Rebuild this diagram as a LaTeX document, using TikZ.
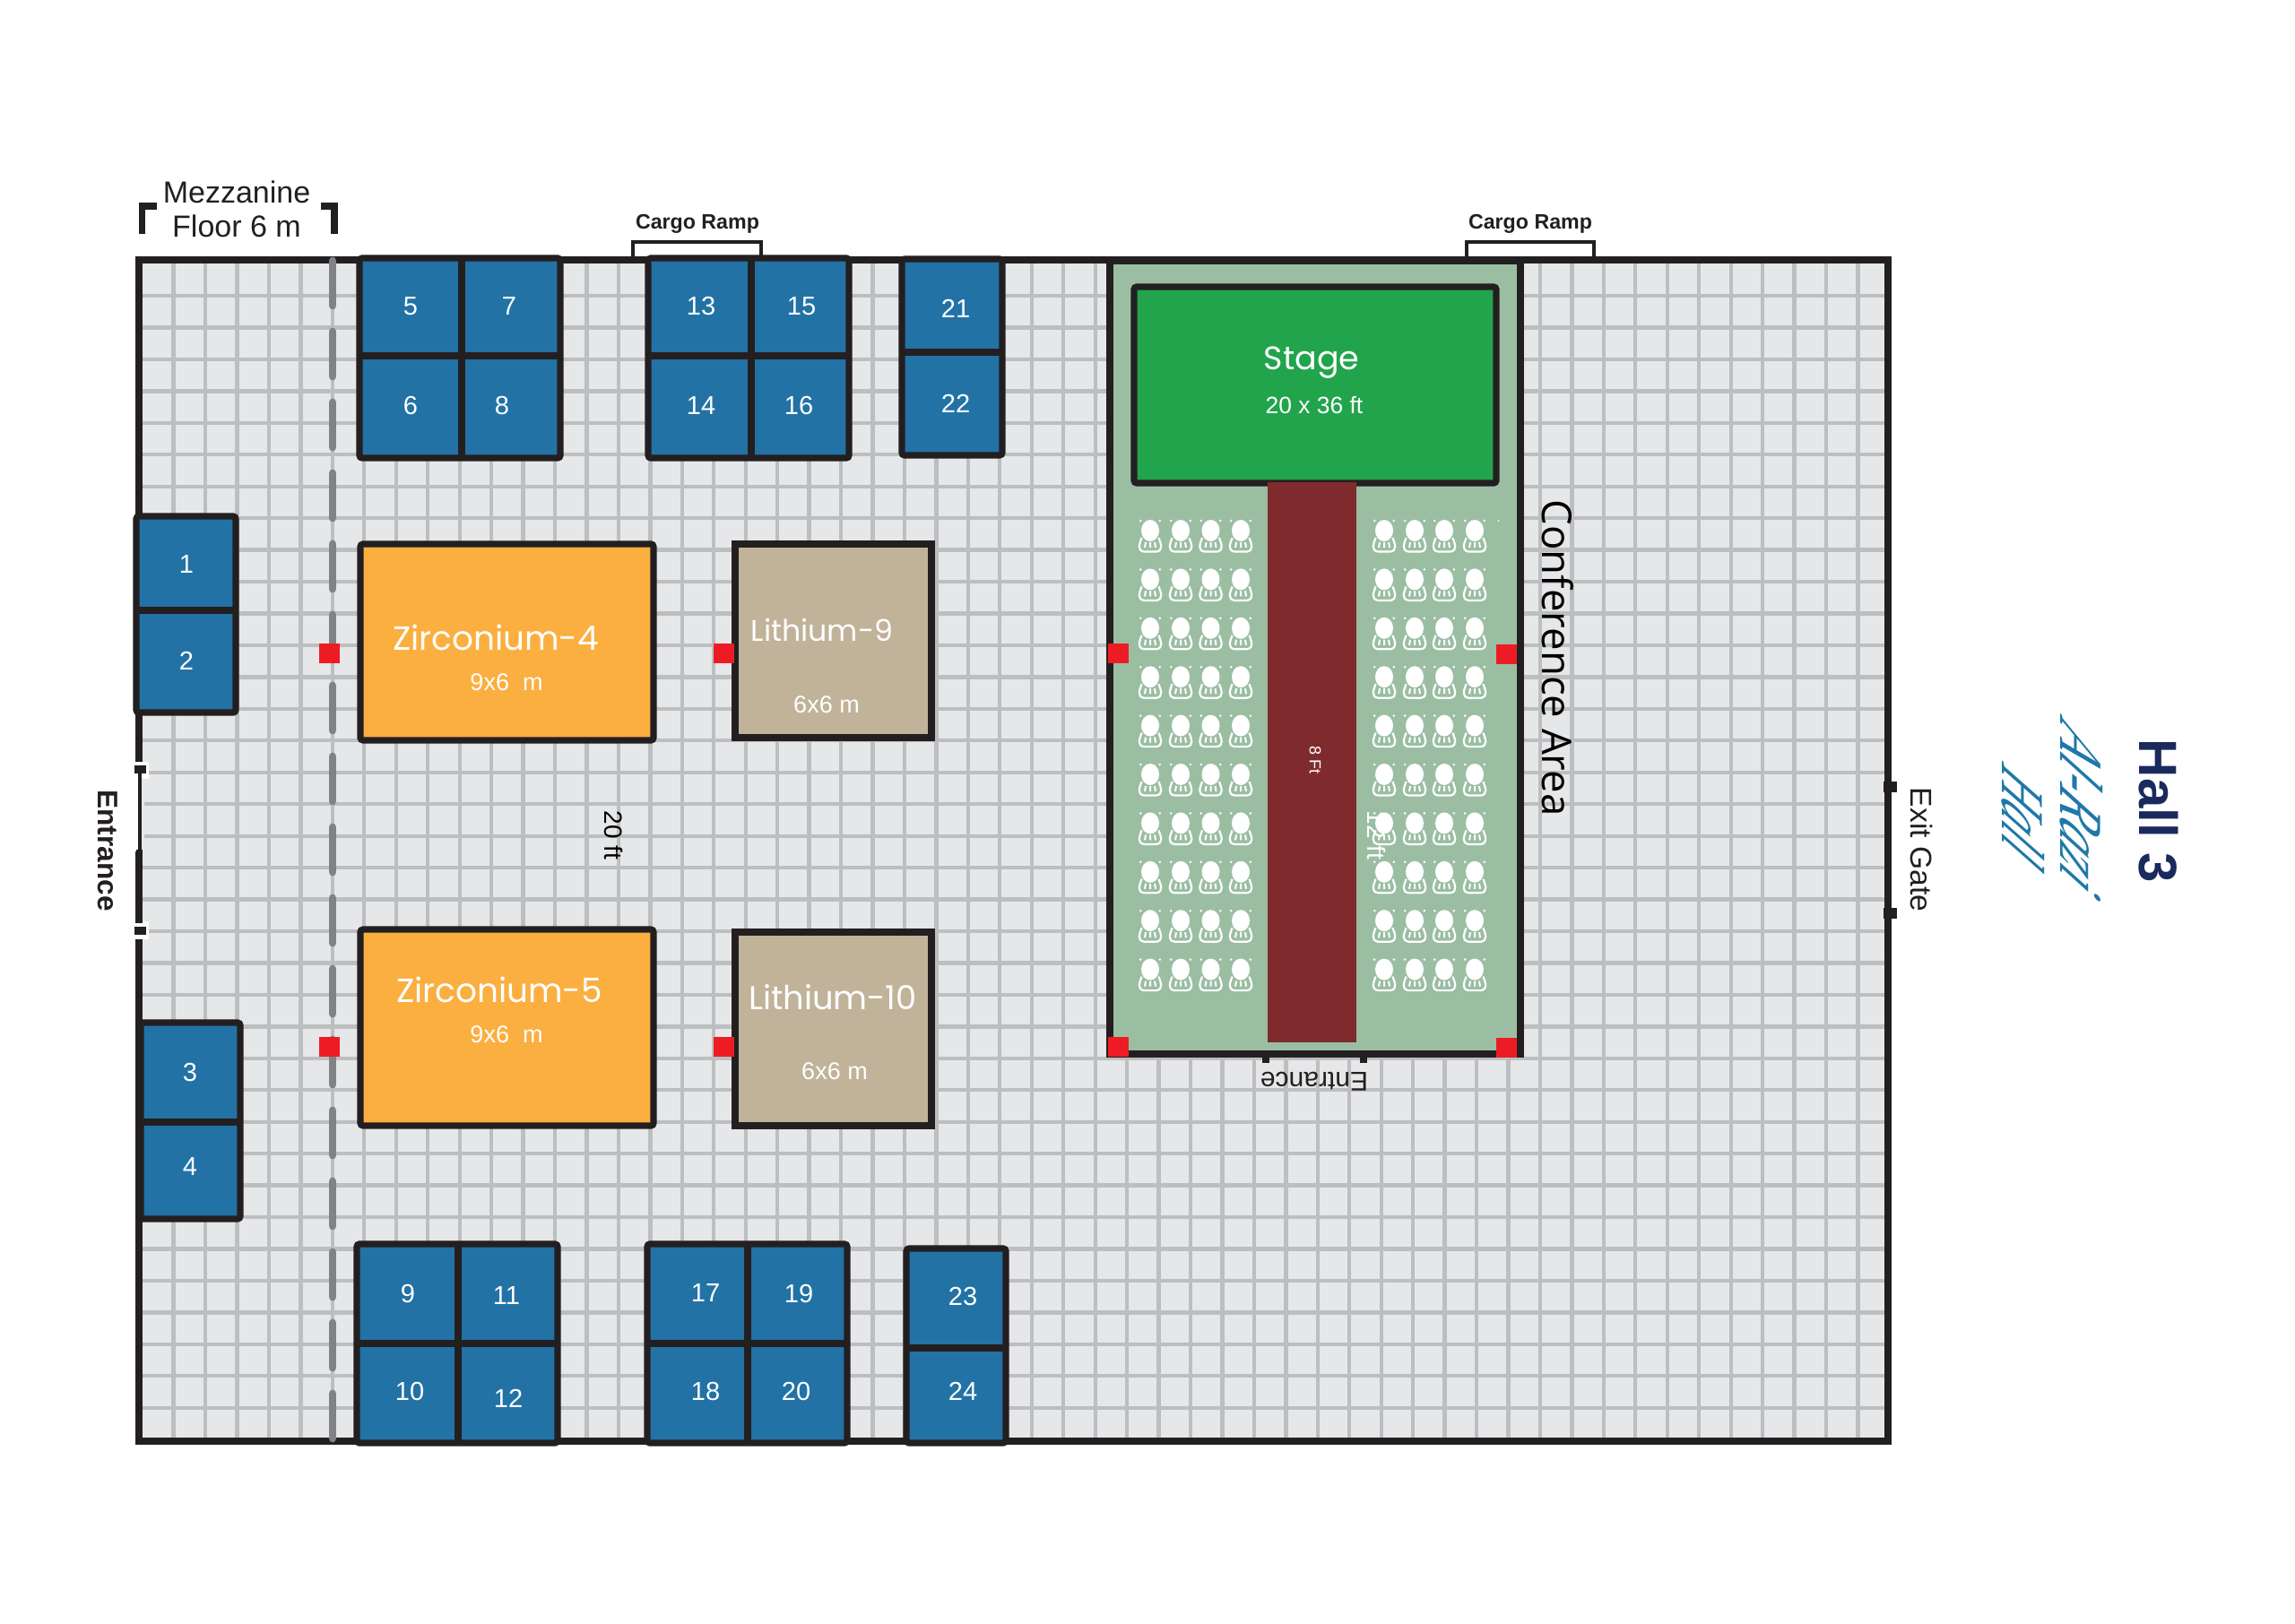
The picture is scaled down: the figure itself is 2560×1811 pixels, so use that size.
\documentclass[tikz,border=0pt]{standalone}
\usepackage{fontspec}
\setmainfont{Liberation Sans}
\newfontfamily\geofont{Poppins}
\newfontfamily\confont{Open Sans}
\newfontfamily\handfont{Liberation Serif}
\definecolor{ink}{HTML}{231F20}
\definecolor{gridbg}{HTML}{E6E7E8}
\definecolor{gridln}{HTML}{BCBEC0}
\definecolor{dashln}{HTML}{808285}
\definecolor{booth}{HTML}{2272A6}
\definecolor{zirc}{HTML}{FBAF40}
\definecolor{lith}{HTML}{C0B399}
\definecolor{confbg}{HTML}{9BBEA3}
\definecolor{stagec}{HTML}{22A44C}
\definecolor{carpet}{HTML}{7F2B2E}
\definecolor{redm}{HTML}{ED1C24}
\definecolor{hallc}{HTML}{1B2A5C}
\definecolor{scriptc}{HTML}{1F78A8}
\tikzset{
  x=0.5pt,y=-0.5pt,
  wall/.style={draw=ink,line width=3.6pt},
  boxline/.style={draw=ink,line width=3.6pt,rounded corners=1.5pt},
  gridl/.style={draw=gridln,line width=2.15pt},
  num/.style={text=white,font=\fontsize{14.5}{16}\selectfont,inner sep=0pt},
  big/.style={text=white,font=\geofont\fontsize{18.7}{22}\selectfont,inner sep=0pt},
  dimn/.style={text=white,font=\fontsize{13.5}{15}\selectfont,inner sep=0pt},
  redmark/.style={fill=redm,draw=none,minimum width=11.5pt,minimum height=11pt,inner sep=0pt},
  tick/.style={fill=ink,draw=none,inner sep=0pt},
  lab/.style={text=ink,inner sep=0pt},
  chair/.pic={
    \fill[white] (0,-6) ellipse [x radius=10,y radius=12];
    \fill[white] (-10.8,-17) circle [radius=1.4] (10.8,-17) circle [radius=1.4];
    \draw[white,line width=1.1pt] (-9.5,2) .. controls (-12,9) and (-15,16) .. (-7,17.5) -- (7,17.5) .. controls (15,16) and (12,9) .. (9.5,2);
    \draw[white,line width=1pt] (-5,7) -- (-6,13) (0,7) -- (0,13) (5,7) -- (6,13);
  }
}
\newcommand{\twoh}[7]{% x1 y1 x2 y2 midx midy: four booths
  \draw[boxline,fill=booth] (#1,#2) rectangle (#3,#4);
  \draw[draw=ink,line width=3.6pt] (#5,#2) -- (#5,#4) (#1,#6) -- (#3,#6);
}
\newcommand{\twov}[5]{% x1 y1 x2 y2 midy: two booths
  \draw[boxline,fill=booth] (#1,#2) rectangle (#3,#4);
  \draw[draw=ink,line width=3.6pt] (#1,#5) -- (#3,#5);
}
\begin{document}
\begin{tikzpicture}
\useasboundingbox (0,0) rectangle (2560,1811);
\fill[white] (0,0) rectangle (2560,1811);
% floor
\fill[gridbg] (155,291) rectangle (2106,1608);
\draw[gridl] \foreach \k in {0,...,53}{(193.6+35.45*\k,291) -- (193.6+35.45*\k,1608)};
\draw[gridl] \foreach \k in {0,...,35}{(155,330+35.45*\k) -- (2106,330+35.45*\k)};
\draw[wall] (155,290) rectangle (2106,1608);
% mezzanine line
\draw[draw=dashln,line width=4.4pt,line cap=round,dash pattern=on 25pt off 14.5pt] (371,291) -- (371,1608);
% mezzanine brackets
\draw[draw=ink,line width=3.6pt] (158.5,261) -- (158.5,230) -- (175,230);
\draw[draw=ink,line width=3.6pt] (358,230) -- (373,230) -- (373,261);
\node[lab,font=\fontsize{17}{18}\selectfont] (mez1) at (264,214) {Mezzanine};
\node[lab,font=\fontsize{17}{18}\selectfont] (mez2) at (264,252) {Floor 6 m};
% cargo ramps
\draw[draw=ink,line width=1.7pt] (706,289) -- (706,270) -- (849,270) -- (849,289);
\draw[draw=ink,line width=1.7pt] (1636,289) -- (1636,270) -- (1778,270) -- (1778,289);
\node[lab,font=\bfseries\fontsize{11.6}{13}\selectfont] (ramp1) at (778,250) {Cargo Ramp};
\node[lab,font=\bfseries\fontsize{11.6}{13}\selectfont] (ramp2) at (1707,250) {Cargo Ramp};
% booths
\twoh{401}{288}{625}{511}{515}{397}{}
\twoh{723}{288}{947}{511}{838}{397}{}
\twov{1006}{289}{1118}{508}{393}
\twov{152}{576}{263}{795}{681}
\twov{157}{1141}{268}{1360}{1252}
\twoh{398}{1388}{622}{1610}{511}{1499}{}
\twoh{722}{1388}{945}{1610}{834}{1499}{}
\twov{1011}{1393}{1122}{1610}{1504}
\foreach \n/\px/\py in {1/208/630,2/208/737,3/212/1196,4/212/1302,5/458/342,6/458/453,7/568/342,8/560/453,
  9/455/1443,10/457/1552,11/565/1446,12/567/1560,13/782/342,14/782/453,15/894/342,16/891/453,
  17/787/1443,18/787/1552,19/891/1443,20/888/1552,21/1066/344,22/1066/450,23/1074/1446,24/1074/1552}
  {\node[num] (b\n) at (\px,\py) {\n};}
% halls
\draw[boxline,fill=zirc] (402,607) rectangle (729,826);
\draw[boxline,fill=zirc] (402,1037) rectangle (729,1256);
\draw[wall,fill=lith] (820,607) rectangle (1039,823);
\draw[wall,fill=lith] (820,1040) rectangle (1039,1256);
\node[big] (z4) at (553,711) {Zirconium-4};
\node[dimn] (z4d) at (565,761) {9x6\ \ m};
\node[big] (z5) at (557,1104) {Zirconium-5};
\node[dimn] (z5d) at (565,1154) {9x6\ \ m};
\node[big,font=\geofont\fontsize{16.6}{19}\selectfont] (l9) at (917,703) {Lithium-9};
\node[dimn] (l9d) at (922,786) {6x6 m};
\node[big,font=\geofont\fontsize{18.4}{20}\selectfont] (l10) at (929,1113) {Lithium-10};
\node[dimn] (l10d) at (931,1195) {6x6 m};
% conference
\fill[confbg] (1238,291) rectangle (1696,1175);
\draw[wall] (1238,1176) -- (1238,291) -- (1696,291) -- (1696,1176) -- cycle;
\draw[boxline,fill=stagec] (1265,320) rectangle (1669,539);
\fill[carpet] (1414,538) rectangle (1513,1163);
\foreach \cx in {1283,1317,1350.5,1384,1544,1578,1611,1645}
  \foreach \r in {0,...,9}
    \pic at (\cx,598+54.4*\r) {chair};
\fill[white] (1671.6,581) circle [radius=1];
\node[big,font=\geofont\fontsize{18.2}{21}\selectfont] (st) at (1463,405) {Stage};
\node[dimn,font=\fontsize{13.2}{15}\selectfont] (std) at (1466,452) {20 x 36 ft};
\node[text=white,inner sep=0pt,rotate=-90,font=\fontsize{9}{10}\selectfont] (f8) at (1467,848) {8 Ft};
\node[text=white,inner sep=0pt,rotate=-90,font=\fontsize{14}{15}\selectfont] (f12) at (1536,932) {12 ft};
\node[lab,text=black,rotate=-90,font=\confont\fontsize{22.8}{24}\selectfont] (conf) at (1738,734) {Conference Area};
\node[lab,text=black,rotate=-90,font=\fontsize{14}{15}\selectfont] (ft20) at (684,932) {20 ft};
% red markers
\foreach \n/\px/\py in {a/367/729,b/807.5/729,c/1247/729,d/1680/730,e/367/1168,f/807.5/1168,g/1247/1168,h/1680/1169}
  {\node[redmark] (r\n) at (\px,\py) {};}
% lower entrance of the conference area
\node[tick,minimum width=4pt,minimum height=6.5pt] (et1) at (1412,1179) {};
\node[tick,minimum width=4pt,minimum height=6.5pt] (et2) at (1521,1179) {};
\node[lab,rotate=180,font=\fontsize{15}{16}\selectfont] (ent2) at (1466,1207) {Entrance};
% side entrance
\fill[white] (147,850) rectangle (166,869);
\fill[white] (147,1028) rectangle (166,1048);
\fill[white] (147,869) rectangle (161,948);
\fill[white] (147,948) rectangle (152,1030);
\fill[gridbg] (158,869) rectangle (161,948);
\draw[draw=ink,line width=3.6pt] (155,950) -- (155,1030);
\node[tick,minimum width=6.5pt,minimum height=4.5pt] (en1) at (156,858) {};
\node[tick,minimum width=6.5pt,minimum height=4.5pt] (en2) at (156,1038) {};
\draw[draw=ink,line width=2pt] (156,858) -- (156,948);
\node[lab,rotate=-90,font=\bfseries\fontsize{15.8}{17}\selectfont] (ent1) at (120,949) {Entrance};
% exit gate
\node[tick,minimum width=7.5pt,minimum height=5.8pt] (ex1) at (2108,878) {};
\node[tick,minimum width=7.5pt,minimum height=5.8pt] (ex2) at (2108,1019) {};
\node[lab,rotate=-90,font=\fontsize{16.8}{20}\selectfont] (exit) at (2143,948) {Exit Gate};
% titles
\node[text=hallc,inner sep=0pt,rotate=-90,font=\bfseries\fontsize{30}{32}\selectfont] (hall) at (2408,905) {Hall 3};
\node[text=scriptc,inner sep=0pt,rotate=-90,xslant=.75,xscale=.86,font=\handfont\itshape\fontsize{34}{36}\selectfont] (ar) at (2322,905) {Al-Razi};
\node[text=scriptc,inner sep=0pt,rotate=-90,xslant=.75,xscale=.76,font=\handfont\itshape\fontsize{34}{36}\selectfont] (ha) at (2257,913) {Hall};
\end{tikzpicture}
\end{document}
